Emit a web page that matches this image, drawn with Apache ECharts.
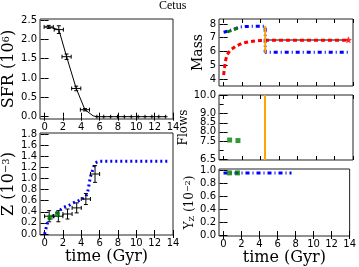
<!DOCTYPE html>
<html>
<head>
<meta charset="utf-8">
<script src="https://cdn.jsdelivr.net/npm/echarts@6/dist/echarts.min.js"></script>
<style>
html,body{margin:0;padding:0;background:#fff;}
#c{width:359px;height:267px;}
</style>
</head>
<body>
<div id="c"></div>
<script>
// ---------- data ----------
const timeTicks = [0, 2, 4, 6, 8, 10, 12, 14];
const sfrTicks = [0, 0.5, 1.0, 1.5, 2.0, 2.5];
const zTicks = [0, 0.2, 0.4, 0.6, 0.8, 1.0, 1.2, 1.4, 1.6, 1.8];
const massTicks = [4, 5, 6, 7, 8];
const flowTicks = [6.5, 7.0, 7.5, 8.0, 8.5, 9.0, 9.5, 10.0];
const yzTicks = [0, 0.2, 0.4, 0.6, 0.8, 1.0];

// SFR model line and binned data [t, sfr, terr, sfrerr]
const sfrLine = [[0, 2.32], [0.45, 2.32], [1.55, 2.25], [2.4, 1.55], [3.45, 0.73], [4.4, 0.18], [5.3, 0.02], [5.7, 0], [6.45, 0], [7.2, 0], [7.95, 0], [8.7, 0], [9.45, 0], [10.2, 0], [10.95, 0], [11.7, 0], [12.45, 0], [13.2, 0]];
const sfrBins = [[0.45, 2.32, 0.5, 0.04], [1.55, 2.25, 0.5, 0.1], [2.4, 1.55, 0.5, 0.07], [3.45, 0.73, 0.5, 0.06], [4.4, 0.18, 0.5, 0.03]];
const sfrZero = [[5.7, 0], [6.45, 0], [7.2, 0], [7.95, 0], [8.7, 0], [9.45, 0], [10.2, 0], [10.95, 0], [11.7, 0], [12.45, 0], [13.2, 0]];

// metallicity
const zModel = [[0, 0], [0.3, 0.19], [0.6, 0.3], [1.1, 0.34], [1.6, 0.42], [2.1, 0.48], [2.7, 0.52], [3.1, 0.56], [3.6, 0.59], [4.0, 0.62], [4.5, 0.67], [4.7, 0.76], [5.0, 1.03], [5.5, 1.28], [6.0, 1.31], [13.5, 1.31]];
const zBins = [[0.5, 0.32, 0.5, 0.1], [1.5, 0.32, 0.5, 0.1], [2.5, 0.36, 0.5, 0.09], [3.5, 0.47, 0.5, 0.09], [4.5, 0.63, 0.5, 0.1], [5.5, 1.08, 0.5, 0.15]];
const zObs = [[0.6, 0.30], [1.4, 0.36]];

// mass
const massGas = [[0, 7.4], [0.5, 7.48], [1.0, 7.6], [1.8, 7.78], [2.5, 7.82], [4.5, 7.84], [4.5, 5.95], [13.5, 5.95]];
const massObsGas = [[0.4, 7.42], [1.0, 7.57], [1.8, 7.78]];
const massStars = [[0, 4.3], [0.18, 5.26], [0.36, 5.75], [0.72, 6.1], [1.26, 6.35], [1.98, 6.6], [2.88, 6.73], [3.97, 6.8], [4.7, 6.82], [13.5, 6.82]];
const massStarsRef = [[4.5, 6.84], [13.5, 6.84]];
const massStarNow = [[13.5, 6.85]];
const massStrip = [[4.5, 7.85], [4.5, 5.9]];

// flows
const flowObs = [[0.65, 7.55], [1.55, 7.52]];
const stripTime = 4.5;

// yields
const yzModel = [[0, 0.955], [7.55, 0.955]];
const yzObs = [[0.65, 0.955], [1.55, 0.955]];

// ---------- layout ----------
const GRIDS = [
  {left: 40, top: 19, width: 133, height: 100},
  {left: 40, top: 133, width: 133, height: 102},
  {left: 219, top: 19, width: 134, height: 67},
  {left: 219, top: 95, width: 134, height: 65},
  {left: 219, top: 169, width: 134, height: 68}
];
const YR = [[-0.06, 2.525], [-0.018, 1.818], [3.5, 8.36], [6.45, 10.03], [-0.015, 1.015]];
const YT = [sfrTicks, zTicks, massTicks, flowTicks, yzTicks];
const YFMT = [v => v.toFixed(1), v => v.toFixed(1), v => String(v), v => v.toFixed(1), v => v.toFixed(1)];
const XLAB = [true, true, false, false, true];

const tickFont = {fontFamily: 'DejaVu Sans', fontSize: 10, color: '#000'};
const serif = 'DejaVu Serif';

const xAxes = [], yAxes = [];
GRIDS.forEach((g, i) => {
  xAxes.push({
    type: 'value', gridIndex: i, min: -0.5, max: 14,
    axisLine: {show: false}, splitLine: {show: false},
    axisTick: {show: true, inside: true, length: 4, customValues: timeTicks, lineStyle: {color: '#000'}},
    axisLabel: Object.assign({show: XLAB[i], margin: 3, customValues: timeTicks, showMinLabel: true, showMaxLabel: true, hideOverlap: false}, tickFont),
    name: (i === 1 || i === 4) ? 'time (Gyr)' : '', nameLocation: 'middle', nameGap: 14,
    nameTextStyle: {fontFamily: serif, fontSize: 16, color: '#000'}
  });
  yAxes.push({
    type: 'value', gridIndex: i, min: YR[i][0], max: YR[i][1],
    axisLine: {show: false}, splitLine: {show: false},
    axisTick: {show: true, inside: true, length: 4, customValues: YT[i], lineStyle: {color: '#000'}},
    axisLabel: Object.assign({margin: 3, customValues: YT[i], formatter: YFMT[i], showMinLabel: true, showMaxLabel: true, hideOverlap: false}, tickFont)
  });
});
// mirrored ticks on top/right
GRIDS.forEach((g, i) => {
  xAxes.push({
    type: 'value', gridIndex: i, position: 'top', min: -0.5, max: 14,
    axisLine: {show: false}, splitLine: {show: false}, axisLabel: {show: false},
    axisTick: {show: true, inside: true, length: 4, customValues: timeTicks, lineStyle: {color: '#000'}}
  });
  yAxes.push({
    type: 'value', gridIndex: i, position: 'right', min: YR[i][0], max: YR[i][1],
    axisLine: {show: false}, splitLine: {show: false}, axisLabel: {show: false},
    axisTick: {show: true, inside: true, length: 4, customValues: YT[i], lineStyle: {color: '#000'}}
  });
});

// axis titles (rich text for super/subscripts)
const rich = (sz) => ({
  a: {fontFamily: serif, fontSize: sz, color: '#000'},
  sup: {fontFamily: serif, fontSize: Math.round(sz * 0.65), color: '#000', verticalAlign: 'top'},
  sub: {fontFamily: serif, fontSize: Math.round(sz * 0.65), color: '#000', verticalAlign: 'bottom'}
});
const names = [
  ['{a|SFR (10}{sup|6}{a|)}', 16, 21],
  ['{a|Z (10}{sup|−3}{a|)}', 16, 22],
  ['{a|Mass}', 14, 9],
  ['{a|Flows}', 12, 9],
  ['{a|Y}{sub|Z}{a| (10}{sup|−2}{a|)}', 12, 21]
];
names.forEach((n, i) => {
  Object.assign(yAxes[i], {
    name: n[0], nameLocation: 'middle', nameRotate: 90, nameGap: n[2],
    nameTextStyle: {rich: rich(n[1])}
  });
});

// error-bar renderer through the axes' own scales
function errBars(cap, color, width) {
  return function (params, api) {
    const x = api.value(0), y = api.value(1), xe = api.value(2), ye = api.value(3);
    const l = api.coord([x - xe, y]), r = api.coord([x + xe, y]);
    const t = api.coord([x, y + ye]), b = api.coord([x, y - ye]);
    const st = {stroke: color, lineWidth: width};
    const ch = [
      {type: 'line', shape: {x1: l[0], y1: l[1], x2: r[0], y2: r[1]}, style: st},
      {type: 'line', shape: {x1: t[0], y1: t[1], x2: b[0], y2: b[1]}, style: st}
    ];
    if (cap > 0) {
      ch.push({type: 'line', shape: {x1: l[0], y1: l[1] - cap, x2: l[0], y2: l[1] + cap}, style: st});
      ch.push({type: 'line', shape: {x1: r[0], y1: r[1] - cap, x2: r[0], y2: r[1] + cap}, style: st});
      ch.push({type: 'line', shape: {x1: t[0] - cap, y1: t[1], x2: t[0] + cap, y2: t[1]}, style: st});
      ch.push({type: 'line', shape: {x1: b[0] - cap, y1: b[1], x2: b[0] + cap, y2: b[1]}, style: st});
    }
    return {type: 'group', children: ch};
  };
}

const line = (gi, data, color, width, type, z) => ({
  type: 'line', xAxisIndex: gi, yAxisIndex: gi, data: data, showSymbol: false, symbol: 'none',
  lineStyle: {color: color, width: width, type: type, cap: 'butt'}, z: z || 2, animation: false, silent: true
});
const scatter = (gi, data, color, symbol, size, z) => ({
  type: 'scatter', xAxisIndex: gi, yAxisIndex: gi, data: data, symbol: symbol, symbolSize: size,
  itemStyle: {color: color}, z: z || 5, animation: false, silent: true
});

const series = [
  // SFR
  line(0, sfrLine, '#000', 1, 'solid', 2),
  {type: 'custom', xAxisIndex: 0, yAxisIndex: 0, data: sfrBins, renderItem: errBars(2, '#000', 1), z: 3, animation: false, silent: true},
  {type: 'custom', xAxisIndex: 0, yAxisIndex: 0, data: sfrZero.map(p => [p[0], p[1], 0.2, 0.05]), renderItem: errBars(0, '#000', 1), z: 3, animation: false, silent: true},
  // Z
  line(1, zModel, '#0000ff', 3, [2, 3], 2),
  {type: 'custom', xAxisIndex: 1, yAxisIndex: 1, data: zBins, renderItem: errBars(2, '#000', 1), z: 3, animation: false, silent: true},
  scatter(1, zObs, '#008000', 'rect', 5, 4),
  // Mass
  line(2, massStarsRef, '#808080', 2, 'solid', 1),
  line(2, massStars, '#ff0000', 3, [4, 3], 2),
  line(2, massGas, '#0000ff', 3, [4, 3, 1, 3], 2),
  line(2, massObsGas, '#008000', 3, [4, 3], 3),
  line(2, massStrip, '#ffa500', 2, 'solid', 4),
  scatter(2, massStarNow, '#ff0000', 'path://M0,-10L2.9,-4L9.5,-3.1L4.8,1.5L5.9,8.1L0,5L-5.9,8.1L-4.8,1.5L-9.5,-3.1L-2.9,-4Z', 7, 5),
  // Flows
  Object.assign(scatter(3, flowObs, '#008000', 'rect', 5, 4), {
    markLine: {silent: true, symbol: 'none', label: {show: false}, animation: false,
      lineStyle: {color: '#ffa500', width: 2, type: 'solid'}, data: [{xAxis: stripTime}]}
  }),
  // Yields
  line(4, yzModel, '#0000ff', 3, [4, 3, 1, 3], 2),
  scatter(4, yzObs, '#008000', 'rect', 5, 4)
];

const chart = echarts.init(document.getElementById('c'), null, {renderer: 'canvas'});
chart.setOption({
  backgroundColor: '#fff',
  animation: false,
  title: {text: 'Cetus', left: 159, top: 0, padding: 0,
    textStyle: {fontFamily: 'Liberation Serif', fontSize: 12, fontWeight: 'normal', color: '#000'}},
  grid: GRIDS.map(g => Object.assign({show: true, borderColor: '#222', borderWidth: 1, backgroundColor: 'transparent', containLabel: false}, g)),
  xAxis: xAxes,
  yAxis: yAxes,
  series: series
});
</script>
</body>
</html>
